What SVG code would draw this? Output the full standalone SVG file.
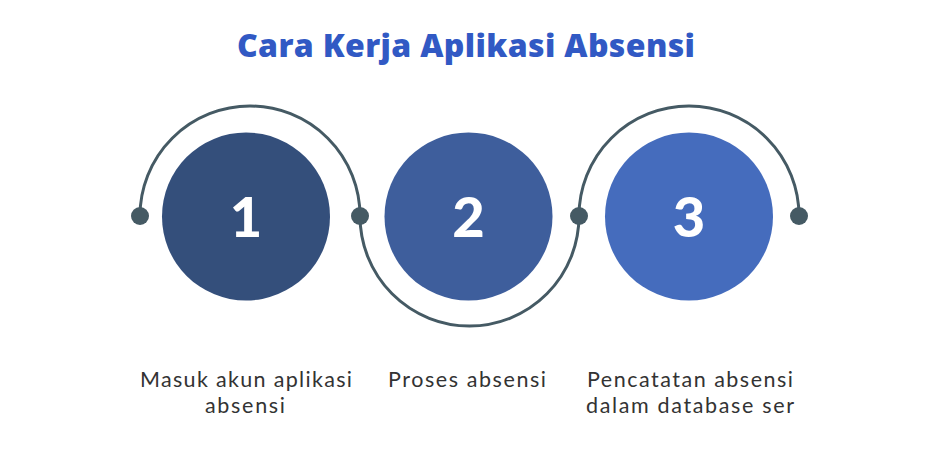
<svg xmlns="http://www.w3.org/2000/svg" width="930" height="466" viewBox="0 0 930 466">
<style>
.title{font-family:"Open Sans","Noto Sans",sans-serif;font-weight:800;font-size:32px;fill:#3159c4;text-anchor:middle}
.num{font-family:"Lato","Noto Sans",sans-serif;font-weight:900;font-size:56px;fill:#ffffff;text-anchor:middle}
.lbl{font-family:"Lato","Open Sans",sans-serif;font-weight:400;font-size:21.5px;fill:#333333;text-anchor:middle}
.arc{fill:none;stroke:#455a64;stroke-width:3}
.dot{fill:#455a64}
</style>
<rect width="930" height="466" fill="#ffffff"/>
<text class="title" x="466" y="57" textLength="458">Cara Kerja Aplikasi Absensi</text>
<g id="connectors">
<path class="arc" d="M140,216 A110,110 0 0 1 360,216"/>
<path class="arc" d="M360,216 A109.5,110 0 0 0 579,216"/>
<path class="arc" d="M579,216 A110,110 0 0 1 799,216"/>
<circle class="dot" cx="140" cy="216" r="9"/>
<circle class="dot" cx="360" cy="216" r="9"/>
<circle class="dot" cx="579" cy="216" r="9"/>
<circle class="dot" cx="799" cy="216" r="9"/>
</g>
<g id="step1">
<circle cx="246" cy="216.5" r="84" fill="#344f7b"/>
<text class="num" x="246" y="237">1</text>
<text class="lbl" x="246" y="387" textLength="212">Masuk akun aplikasi</text>
<text class="lbl" x="245" y="413" textLength="80">absensi</text>
</g>
<g id="step2">
<circle cx="468.5" cy="216.5" r="84" fill="#3e5e9c"/>
<text class="num" x="468.5" y="237">2</text>
<text class="lbl" x="467" y="387" textLength="158">Proses absensi</text>
</g>
<g id="step3">
<circle cx="689" cy="216.5" r="84" fill="#456cbd"/>
<text class="num" x="689" y="237">3</text>
<text class="lbl" x="690" y="387" textLength="206">Pencatatan absensi</text>
<text class="lbl" x="690" y="413" textLength="208">dalam database ser</text>
</g>
</svg>
